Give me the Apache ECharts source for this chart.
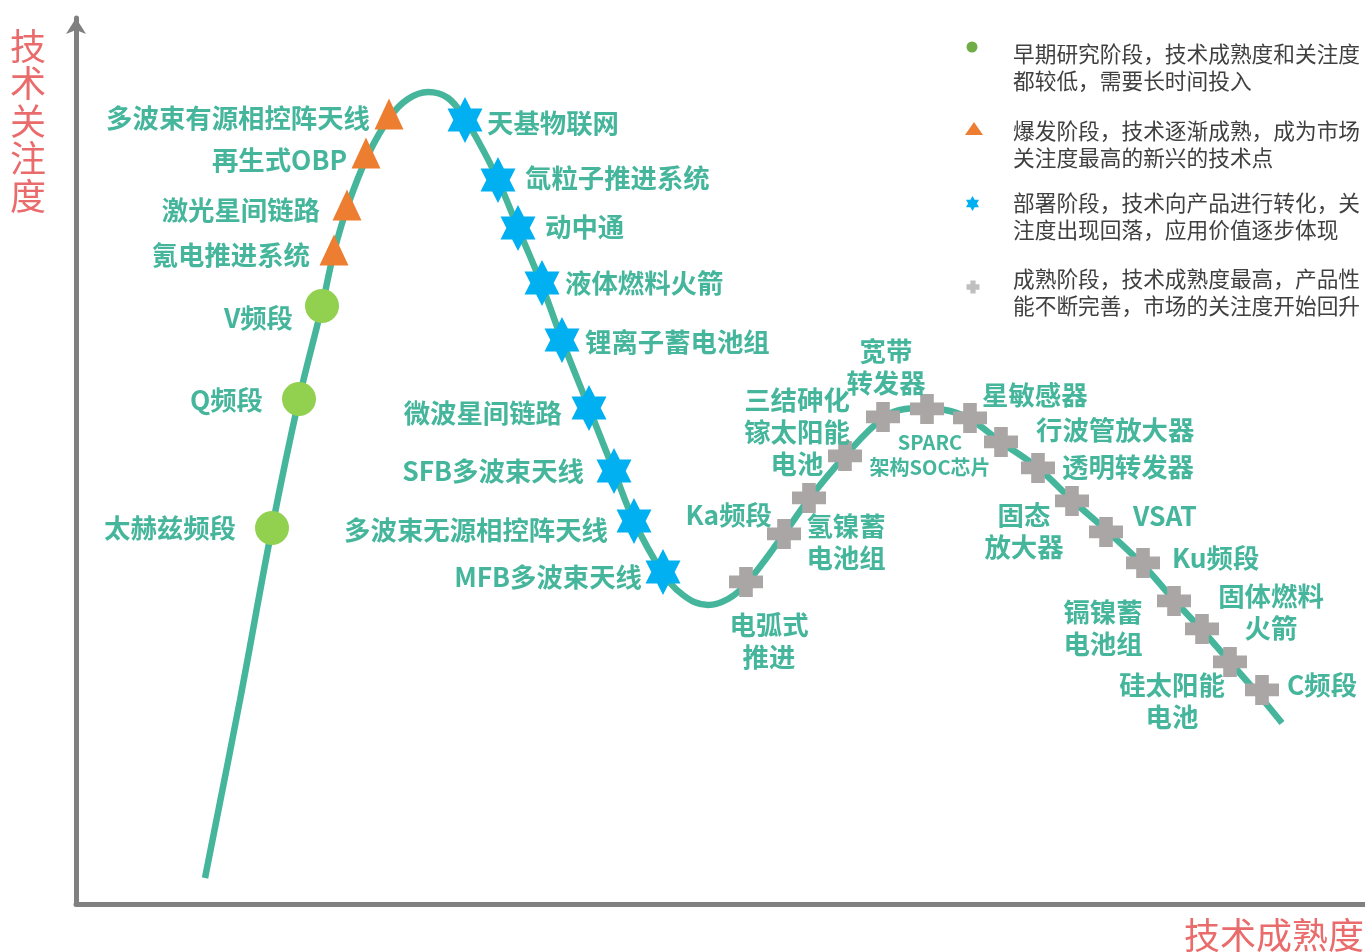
<!DOCTYPE html>
<html>
<head>
<meta charset="utf-8">
<script src="https://cdn.jsdelivr.net/npm/echarts@6/dist/echarts.min.js"></script>
<style>
html,body{margin:0;padding:0;background:#fff;}
#main{width:1365px;height:952px;}
</style>
</head>
<body>
<div id="main"></div>
<script>
// ---- data (x = technology maturity, y = attention; units) ----
var curvePoints = [
  [129,26],[164,204],[196,376],[223,505],[246,598],[258,652],[272,699],[292,749],
  [314,787],[332,805],[352,812],[372,806],[389,785],[406,756],[422,724],[442,676],
  [465,621],[486,564],[513,496],[538,433],[558,383],[585,334],[607,309],[632,299],
  [652,305],[670,320],[708,370],[733,405],[769,448],[807,486],[829,495],[851,496],
  [874,493],[894,485],[925,462],[962,436],[996,404],[1030,374],[1067,339],
  [1098,304],[1126,274],[1154,242],[1182,210],[1206,181]
];

var earlyNames  = ['太赫兹频段','Q频段','V频段'];
var earlyX      = [196, 223, 246];
var earlyY      = [376, 505, 598];

var boomNames   = ['氪电推进系统','激光星间链路','再生式OBP','多波束有源相控阵天线'];
var boomX       = [258, 271, 290, 313];
var boomY       = [654, 699, 751, 790];

var deployNames = ['天基物联网','氙粒子推进系统','动中通','液体燃料火箭','锂离子蓄电池组',
                   '微波星间链路','SFB多波束天线','多波束无源相控阵天线','MFB多波束天线'];
var deployX     = [389, 422, 442, 466, 486, 513, 538, 558, 587];
var deployY     = [784, 724, 676, 621, 564, 496, 433, 383, 332];

var matureNames = ['电弧式\n推进','Ka频段','氢镍蓄\n电池组','三结砷化\n镓太阳能\n电池','宽带\n转发器',
                   'SPARC\n架构SOC芯片','星敏感器','行波管放大器','透明转发器','固态\n放大器','VSAT',
                   'Ku频段','镉镍蓄\n电池组','固体燃料\n火箭','硅太阳能\n电池','C频段'];
var matureX     = [670, 708, 733, 769, 807, 851, 894, 925, 962, 996, 1030, 1067, 1098, 1126, 1154, 1186];
var matureY     = [322, 370, 406, 448, 487, 495, 486, 462, 436, 403, 372, 341, 303, 275, 242, 214];

var legendTexts = [
  '早期研究阶段，技术成熟度和关注度\n都较低，需要长时间投入',
  '爆发阶段，技术逐渐成熟，成为市场\n关注度最高的新兴的技术点',
  '部署阶段，技术向产品进行转化，关\n注度出现回落，应用价值逐步体现',
  '成熟阶段，技术成熟度最高，产品性\n能不断完善，市场的关注度开始回升'
];
var xTitle = '技术成熟度';
var yTitle = '技术关注度';

// ---- label placement (style only): [align, dx, dy] relative to the marker centre ----
var labelPlace = {
  '太赫兹频段':['right',-36,0], 'Q频段':['right',-36,1], 'V频段':['right',-29,12],
  '氪电推进系统':['right',-24,5], '激光星间链路':['right',-27,5], '再生式OBP':['right',-19,7],
  '多波束有源相控阵天线':['right',-19,4],
  '天基物联网':['left',22,3], '氙粒子推进系统':['left',27,-2], '动中通':['left',27,-1],
  '液体燃料火箭':['left',23,0], '锂离子蓄电池组':['left',23,2],
  '微波星间链路':['right',-27,5], 'SFB多波束天线':['right',-30,0],
  '多波束无源相控阵天线':['right',-26,9], 'MFB多波束天线':['right',-21,5],
  '电弧式\n推进':['center',23,59], 'Ka频段':['right',-12,-19], '氢镍蓄\n电池组':['center',37,44],
  '三结砷化\n镓太阳能\n电池':['center',-48,-24], '宽带\n转发器':['center',3,-50],
  'SPARC\n架构SOC芯片':['center',3,46], '星敏感器':['left',12,-23], '行波管放大器':['left',35,-12],
  '透明转发器':['left',24,-1], '固态\n放大器':['center',-48,30], 'VSAT':['left',27,-16],
  'Ku频段':['left',29,-5], '镉镍蓄\n电池组':['center',-71,27], '固体燃料\n火箭':['center',69,-17],
  '硅太阳能\n电池':['center',-58,39], 'C频段':['left',25,-5]
};

var TEAL = '#45B69C';
var FONT = '"Noto Sans CJK SC","Microsoft YaHei",sans-serif';
var STAR = 'path://M0,-1000L289,-500L866,-500L577,0L866,500L289,500L0,1000L-289,500L-866,500L-577,0L-866,-500L-289,-500Z';
var CROSS = 'path://M30,0H70V28H100V71H70V100H30V71H0V28H30Z';

function build(names, xs, ys) {
  return names.map(function (n, i) {
    var small = n.indexOf('SPARC') === 0;
    return {
      name: n,
      value: [xs[i], ys[i]],
      label: {
        show: true,
        position: 'inside',
        formatter: '{b}',
        color: TEAL,
        fontFamily: FONT,
        fontWeight: 'bold',
        fontSize: small ? 20 : 26.4,
        lineHeight: small ? 25 : 32
      }
    };
  });
}

function scatter(name, names, xs, ys, symbol, size, color) {
  return {
    name: name, type: 'scatter', z: 3,
    symbol: symbol, symbolSize: size,
    itemStyle: { color: color, opacity: 1 },
    data: build(names, xs, ys),
    labelLayout: function (params) {
      var n = names[params.dataIndex];
      var p = labelPlace[n] || ['center', 0, 0];
      var r = params.rect;
      var cx = r.x + r.width / 2, cy = r.y + r.height / 2;
      return { x: cx + p[1], y: cy + p[2], align: p[0], verticalAlign: 'middle', hideOverlap: false };
    },
    emphasis: { disabled: true }
  };
}

// legend icon shapes (pure decoration, not data)
function starPts(cx, cy, hw, hh) {
  var u = [[0,-1],[0.289,-0.5],[0.866,-0.5],[0.577,0],[0.866,0.5],[0.289,0.5],[0,1],
           [-0.289,0.5],[-0.866,0.5],[-0.577,0],[-0.866,-0.5],[-0.289,-0.5]];
  return u.map(function (p) { return [cx + p[0] / 0.866 * hw, cy + p[1] * hh]; });
}
function crossPts(cx, cy, w, h) {
  var u = [[0.3,0],[0.7,0],[0.7,0.28],[1,0.28],[1,0.71],[0.7,0.71],[0.7,1],[0.3,1],[0.3,0.71],[0,0.71],[0,0.28],[0.3,0.28]];
  return u.map(function (p) { return [cx - w / 2 + p[0] * w, cy - h / 2 + p[1] * h]; });
}

var chart = echarts.init(document.getElementById('main'), null, { renderer: 'canvas' });

var graphics = [
  { type: 'circle', shape: { cx: 972, cy: 47, r: 5.5 }, style: { fill: '#70AD47' } },
  { type: 'polygon', shape: { points: [[965, 135], [983, 135], [974, 122]] }, style: { fill: '#ED7D31' } },
  { type: 'polygon', shape: { points: starPts(972.5, 203.5, 6.5, 7.5) }, style: { fill: '#00B0F0' } },
  { type: 'polygon', shape: { points: crossPts(973, 287, 13, 13) }, style: { fill: '#BFBFBF' } }
];
var legendTops = [40, 117, 189, 265];
legendTexts.forEach(function (t, i) {
  graphics.push({
    type: 'text', x: 1013, y: legendTops[i],
    style: { text: t, fill: '#404040', font: '21.7px ' + FONT, lineHeight: 27, verticalAlign: 'top', align: 'left' }
  });
});
graphics.push({
  type: 'text', x: 28, y: 121,
  style: { text: yTitle.split('').join('\n'), fill: '#EA6B6B', font: '36px ' + FONT, lineHeight: 37.5, align: 'center', verticalAlign: 'middle' }
});
graphics.push({
  type: 'text', x: 1364, y: 935,
  style: { text: xTitle, fill: '#EA6B6B', font: '36px ' + FONT, align: 'right', verticalAlign: 'middle' }
});

chart.setOption({
  animation: false,
  backgroundColor: '#fff',
  grid: { left: 76, right: 0, top: 18, bottom: 48 },
  xAxis: {
    type: 'value', min: 0, max: 1289,
    axisLine: { show: true, lineStyle: { color: '#808080', width: 5 } },
    axisTick: { show: false }, axisLabel: { show: false }, splitLine: { show: false }
  },
  yAxis: {
    type: 'value', min: 0, max: 886,
    axisLine: { show: true, symbol: ['none', 'arrow'], symbolSize: [15, 16], lineStyle: { color: '#808080', width: 5 } },
    axisTick: { show: false }, axisLabel: { show: false }, splitLine: { show: false }
  },
  series: [
    {
      type: 'line', name: 'curve', data: curvePoints, smooth: 0.4,
      showSymbol: false, symbol: 'none', z: 2,
      lineStyle: { color: TEAL, width: 6.5, cap: 'butt' },
      emphasis: { disabled: true }
    },
    scatter('早期研究阶段', earlyNames, earlyX, earlyY, 'circle', 34, '#92D050'),
    scatter('爆发阶段', boomNames, boomX, boomY, 'triangle', [29, 31], '#ED7D31'),
    scatter('部署阶段', deployNames, deployX, deployY, STAR, [35, 46], '#00B0F0'),
    scatter('成熟阶段', matureNames, matureX, matureY, CROSS, [34, 30], '#ABA6A6')
  ],
  graphic: graphics
});
</script>
</body>
</html>
